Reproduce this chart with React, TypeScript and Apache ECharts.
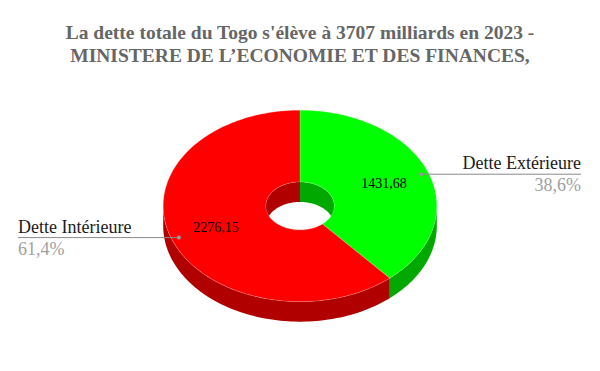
import React, { useEffect, useRef } from "react";
import * as echarts from "echarts";

const titleLines = [
  "La dette totale du Togo s'élève à 3707 milliards en 2023 -",
  "MINISTERE DE L’ECONOMIE ET DES FINANCES,",
];
const categories = ["Dette Extérieure", "Dette Intérieure"];
const values = [1431.68, 2276.15];
const topColors = ["#00FF00", "#FF0000"];
const sideColors = ["#00A800", "#B00000"];

const FONT = "'Liberation Serif', 'Times New Roman', serif";

export default function App() {
  const ref = useRef<HTMLDivElement>(null);
  useEffect(() => {
    document.body.style.margin = "0";
    if (!ref.current) return;
    const chart = echarts.init(ref.current, null, { renderer: "svg" });
    const total = values.reduce((a, b) => a + b, 0);

    const renderItem = (params: any, api: any) => {
      const i = params.dataIndex;
      const W = api.getWidth();
      const H = api.getHeight();
      const cx = W * 0.5;
      const cy = H * 0.555;
      const rx = W * 0.228;
      const ry = rx * 0.70;
      const irx = rx * 0.25;
      const iry = ry * 0.25;
      const depth = 20;
      let before = 0;
      for (let k = 0; k < i; k++) before += values[k];
      const v = api.value(0);
      const start = (before / total) * 360;
      const end = start + (v / total) * 360;
      const rad = (d: number) => (d * Math.PI) / 180;
      const pt = (t: number, a: number, b: number, dy = 0) => [
        cx + a * Math.sin(rad(t)),
        cy - b * Math.cos(rad(t)) + dy,
      ];
      const arc = (a0: number, a1: number, a: number, b: number, dy = 0) => {
        const n = Math.max(2, Math.ceil(Math.abs(a1 - a0) / 1.5));
        const out: number[][] = [];
        for (let s = 0; s <= n; s++) out.push(pt(a0 + ((a1 - a0) * s) / n, a, b, dy));
        return out;
      };
      const children: any[] = [];
      const os = Math.max(start, 90);
      const oe = Math.min(end, 270);
      if (os < oe) {
        children.push({
          type: "polygon",
          z2: 1,
          shape: { points: [...arc(os, oe, rx, ry), ...arc(oe, os, rx, ry, depth)] },
          style: { fill: sideColors[i] },
        });
      }
      const ranges = [
        [0, 90],
        [270, 360],
      ];
      ranges.forEach(([r0, r1]) => {
        const s = Math.max(start, r0);
        const e = Math.min(end, r1);
        if (s < e) {
          children.push({
            type: "polygon",
            z2: 1,
            shape: { points: [...arc(s, e, irx, iry), ...arc(e, s, irx, iry, depth)] },
            style: { fill: sideColors[i] },
          });
        }
      });
      children.push({
        type: "polygon",
        z2: 10,
        shape: { points: [...arc(start, end, rx, ry), ...arc(end, start, irx, iry)] },
        style: { fill: topColors[i], stroke: "rgba(255,255,255,0.35)", lineWidth: 0.6 },
      });
      const mid = (start + end) / 2;
      const vp = pt(mid, rx * 0.655, ry * 0.655);
      children.push({
        type: "text",
        z2: 20,
        x: vp[0],
        y: vp[1],
        style: {
          text: v.toFixed(2).replace(".", ","),
          fontFamily: FONT,
          fontSize: 14,
          fill: "#000",
          align: "center",
          verticalAlign: "middle",
        },
      });
      const dp = pt(mid, rx * 0.945, ry * 0.945);
      const right = Math.sin(rad(mid)) > 0;
      const lineEnd = right ? W - 19 : 18;
      children.push({
        type: "line",
        z2: 20,
        shape: { x1: dp[0], y1: dp[1], x2: lineEnd, y2: dp[1] },
        style: { stroke: "#8a8a8a", lineWidth: 1 },
      });
      children.push({
        type: "circle",
        z2: 21,
        shape: { cx: dp[0], cy: dp[1], r: 2 },
        style: { fill: "#999" },
      });
      children.push({
        type: "text",
        z2: 20,
        x: lineEnd,
        y: dp[1] - 2,
        style: {
          text: categories[i],
          fontFamily: FONT,
          fontSize: 18,
          fill: "#1a1a1a",
          align: right ? "right" : "left",
          verticalAlign: "bottom",
        },
      });
      children.push({
        type: "text",
        z2: 20,
        x: lineEnd,
        y: dp[1] + 2,
        style: {
          text: ((v / total) * 100).toFixed(1).replace(".", ",") + "%",
          fontFamily: FONT,
          fontSize: 18,
          fill: "#a0a0a0",
          align: right ? "right" : "left",
          verticalAlign: "top",
        },
      });
      return { type: "group", children };
    };

    chart.setOption({
      animation: false,
      backgroundColor: "#fff",
      title: {
        text: titleLines.join("\n"),
        left: "center",
        top: 16,
        textStyle: {
          fontFamily: FONT,
          fontWeight: "bold",
          fontSize: 19.5,
          lineHeight: 23,
          color: "#666",
        },
      },
      series: [
        {
          type: "custom",
          coordinateSystem: "none",
          renderItem,
          data: values.map((v) => [v]),
        },
      ],
    });
    return () => chart.dispose();
  }, []);
  return <div ref={ref} style={{ width: 600, height: 371 }} />;
}
